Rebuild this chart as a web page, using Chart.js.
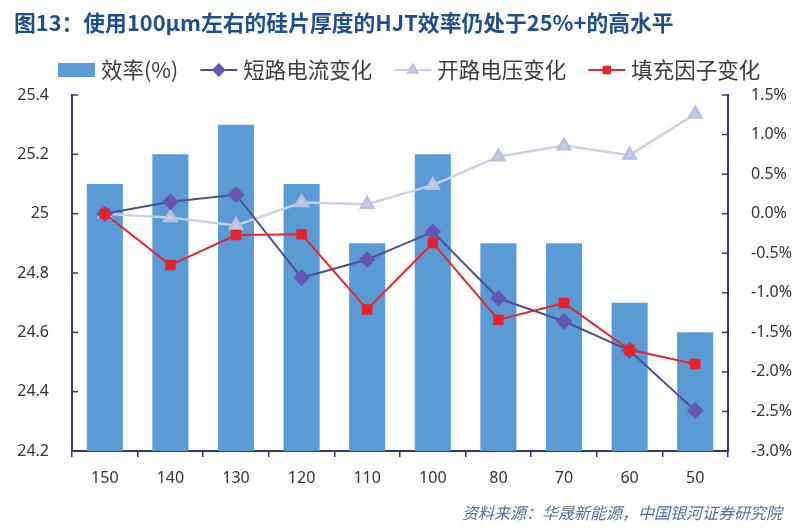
<!DOCTYPE html>
<html>
<head>
<meta charset="utf-8">
<script src="https://cdn.jsdelivr.net/npm/chart.js@4"></script>
<style>
  html, body { margin: 0; padding: 0; background: #fff; }
  #wrap { position: relative; width: 810px; height: 529px; }
  #title {
    position: absolute; left: 14px; top: 6px;
    font: bold 21.8px "Noto Sans CJK SC", sans-serif; color: #1F4E8D; white-space: nowrap;
  }
  #fuente {
    position: absolute; right: 28px; top: 500px;
    font: italic 16px "Noto Sans CJK SC", sans-serif; color: #4F6FA8; white-space: nowrap;
  }
</style>
</head>
<body>
<div id="wrap">
  <canvas id="grafico" width="810" height="529"></canvas>
  <div id="title">图13：使用100μm左右的硅片厚度的HJT效率仍处于25%+的高水平</div>
  <div id="fuente">资料来源：华晟新能源，中国银河证券研究院</div>
</div>
<script>
// datos
const espesores = ["150", "140", "130", "120", "110", "100", "80", "70", "60", "50"];
const eficiencia = [25.1, 25.2, 25.3, 25.1, 24.9, 25.2, 24.9, 24.9, 24.7, 24.6];
const corriente = [0.0, 0.15, 0.24, -0.81, -0.58, -0.23, -1.07, -1.36, -1.73, -2.49];
const voltaje = [0.0, -0.05, -0.15, 0.14, 0.12, 0.36, 0.72, 0.86, 0.74, 1.26];
const factorLlenado = [0.0, -0.65, -0.27, -0.26, -1.21, -0.37, -1.34, -1.13, -1.72, -1.9];

const ejeColor = "#343878";
const fuenteTicks = { family: "Noto Sans", size: 16 };

// leyenda dibujada a mano (barra + línea con marcador)
const leyenda = {
  id: "leyenda",
  afterDraw(chart) {
    const ctx = chart.ctx;
    const y = 70;
    let x = 58;
    ctx.save();
    ctx.font = '21.5px "Noto Sans CJK SC"';
    ctx.textBaseline = "middle";
    chart.data.datasets.forEach((ds) => {
      if (ds.type === "bar") {
        ctx.fillStyle = ds.backgroundColor;
        ctx.fillRect(x, y - 7, 37, 14);
      } else {
        ctx.strokeStyle = ds.borderColor;
        ctx.lineWidth = 2;
        ctx.beginPath();
        ctx.moveTo(x, y);
        ctx.lineTo(x + 37, y);
        ctx.stroke();
        ctx.fillStyle = ds.pointBackgroundColor;
        ctx.strokeStyle = ds.pointBorderColor;
        Chart.helpers.drawPoint(ctx, {
          pointStyle: ds.pointStyle,
          radius: ds.pointRadius - 1.5,
          borderWidth: 1,
        }, x + 18.5, y);
      }
      x += 43;
      ctx.fillStyle = "#3c3c3c";
      ctx.fillText(ds.label, x, y);
      x += ctx.measureText(ds.label).width + 22;
    });
    ctx.restore();
  },
};

// marcas cortas hacia dentro en los ejes verticales
const marcas = {
  id: "marcas",
  afterDraw(chart) {
    const ctx = chart.ctx;
    const izq = chart.scales.y;
    const der = chart.scales.y1;
    ctx.save();
    ctx.strokeStyle = ejeColor;
    ctx.lineWidth = 1.5;
    izq.ticks.forEach((t) => {
      const py = izq.getPixelForValue(t.value);
      ctx.beginPath();
      ctx.moveTo(izq.right, py);
      ctx.lineTo(izq.right + 6, py);
      ctx.stroke();
    });
    der.ticks.forEach((t) => {
      const py = der.getPixelForValue(t.value);
      ctx.beginPath();
      ctx.moveTo(der.left - 6, py);
      ctx.lineTo(der.left, py);
      ctx.stroke();
    });
    ctx.restore();
  },
};

new Chart(document.getElementById("grafico"), {
  data: {
    labels: espesores,
    datasets: [
      {
        type: "bar",
        label: "效率(%)",
        data: eficiencia,
        backgroundColor: "#5B9BD5",
        yAxisID: "y",
        barPercentage: 0.55,
        categoryPercentage: 1,
        order: 4,
      },
      {
        type: "line",
        label: "短路电流变化",
        data: corriente,
        yAxisID: "y1",
        borderColor: "#4E4E96",
        borderWidth: 2,
        pointStyle: "rectRot",
        pointRadius: 7,
        pointBackgroundColor: "#6655B5",
        pointBorderColor: "#6655B5",
        order: 2,
      },
      {
        type: "line",
        label: "开路电压变化",
        data: voltaje,
        yAxisID: "y1",
        borderColor: "#CBD0E6",
        borderWidth: 2.5,
        pointStyle: "triangle",
        pointRadius: 7,
        pointBackgroundColor: "#C6CCEA",
        pointBorderColor: "#B9C0E0",
        order: 3,
      },
      {
        type: "line",
        label: "填充因子变化",
        data: factorLlenado,
        yAxisID: "y1",
        borderColor: "#E0262E",
        borderWidth: 2,
        pointStyle: "rect",
        pointRadius: 6,
        pointBackgroundColor: "#E8202A",
        pointBorderColor: "#E8202A",
        order: 1,
      },
    ],
  },
  options: {
    responsive: false,
    animation: false,
    layout: { padding: { top: 95, left: 0, right: 0, bottom: 0 } },
    plugins: {
      legend: { display: false },
      tooltip: { enabled: false },
    },
    scales: {
      x: {
        grid: {
          offset: true,
          drawOnChartArea: false,
          drawTicks: true,
          tickLength: 6,
          color: ejeColor,
          lineWidth: 1.5,
        },
        border: { color: ejeColor, width: 2 },
        ticks: { color: "#333", font: fuenteTicks, padding: 12, maxRotation: 0 },
        afterFit: (s) => { s.height = 78; },
      },
      y: {
        position: "left",
        min: 24.2,
        max: 25.4,
        grid: { display: false },
        border: { color: ejeColor, width: 2 },
        ticks: {
          stepSize: 0.2,
          color: "#333",
          font: fuenteTicks,
          padding: 15,
          callback: (v) => String(+v.toFixed(1)),
        },
        afterFit: (s) => { s.width = 72; },
      },
      y1: {
        position: "right",
        min: -3,
        max: 1.5,
        grid: { display: false },
        border: { color: ejeColor, width: 2 },
        ticks: {
          stepSize: 0.5,
          color: "#333",
          font: fuenteTicks,
          padding: 15,
          callback: (v) => v.toFixed(1) + "%",
        },
        afterFit: (s) => { s.width = 82; },
      },
    },
  },
  plugins: [leyenda, marcas],
});
</script>
</body>
</html>
